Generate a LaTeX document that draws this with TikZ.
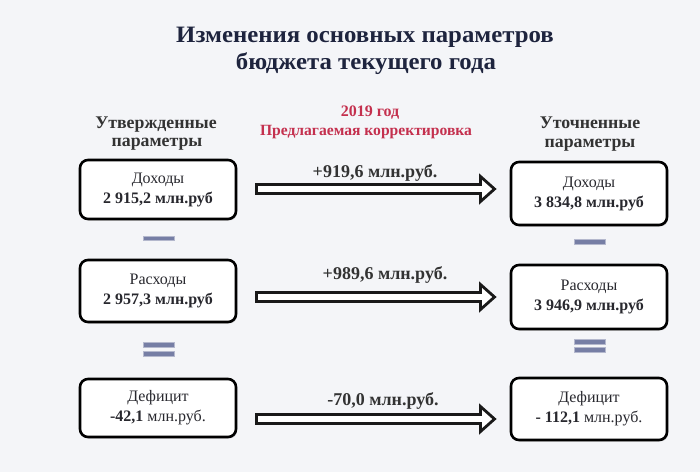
\documentclass[tikz,border=0pt]{standalone}
\usepackage{fontspec}
\setmainfont{Liberation Serif}
\usetikzlibrary{calc,shadows}
\definecolor{bgc}{RGB}{244,245,248}
\definecolor{titlec}{RGB}{30,36,62}
\definecolor{redc}{RGB}{196,48,78}
\definecolor{txtc}{RGB}{40,40,46}
\definecolor{barc}{RGB}{118,126,165}
\newcommand{\fatarrow}[2]{%
  \draw[arrowline] ($(#1)+(0,-4.5)$) -- ($(#2)+(-14,-4.5)$) -- ($(#2)+(-14,-12.5)$) -- (#2)
    -- ($(#2)+(-14,12.5)$) -- ($(#2)+(-14,4.5)$) -- ($(#1)+(0,4.5)$) -- cycle;}
\begin{document}
\begin{tikzpicture}[x=1pt,y=-1pt,
  box/.style={draw=black, line width=2.6pt, rounded corners=8pt, fill=white,
    minimum width=156pt, minimum height=60pt, align=center, text=txtc, inner sep=0pt,
    font=\fontsize{16}{20}\selectfont,
    drop shadow={shadow xshift=1.2pt, shadow yshift=-1.5pt, fill=black!35, opacity=.45}},
  bar/.style={draw=barc!55!white, line width=0.6pt, fill=barc, minimum width=31pt, minimum height=4.5pt, inner sep=0pt},
  arrowline/.style={draw=black!90, line width=2.8pt, fill=white, line join=miter, miter limit=10},
  titletext/.style={font=\bfseries\fontsize{23.5}{28}\selectfont, text=titlec, anchor=base, inner sep=0pt},
  headtext/.style={font=\bfseries\fontsize{17.8}{20}\selectfont, text=black!80, anchor=base, inner sep=0pt},
  redtext/.style={font=\bfseries\fontsize{16}{19}\selectfont, text=redc, anchor=base, inner sep=0pt},
  lbl/.style={font=\bfseries\fontsize{18}{21}\selectfont, text=black!80, anchor=base, inner sep=0pt}
]
\fill[bgc] (0,0) rectangle (700,472);
\useasboundingbox (0,0) rectangle (700,472);

% title
\node[titletext] (t1) at (365,42.5) {\scalebox{1.055}[1]{Изменения основных параметров}};
\node[titletext] (t2) at (366,69.5) {\scalebox{1.055}[1]{бюджета текущего года}};

% column heads
\node[headtext] (hl1) at (156,128) {Утвержденные};
\node[headtext] (hl2) at (157,146) {параметры};
\node[redtext] (y1) at (370,116) {2019 год};
\node[redtext, font=\bfseries\fontsize{15.6}{18}\selectfont] (y2) at (366,135) {Предлагаемая корректировка};
\node[headtext] (hr1) at (590,128) {Уточненные};
\node[headtext] (hr2) at (590,147) {параметры};

% left boxes
\node[box, minimum height=59pt] (L1) at (158,189.5) {Доходы\\\textbf{2 915,2 млн.руб}};
\node[box, minimum height=62pt] (L2) at (158,291) {Расходы\\\textbf{2 957,3 млн.руб}};
\node[box, minimum height=58pt] (L3) at (158,408) {Дефицит\\\textbf{-42,1} млн.руб.};

% right boxes
\node[box, minimum height=63pt] (R1) at (589,193.5) {Доходы\\\textbf{3 834,8 млн.руб}};
\node[box, minimum height=64pt] (R2) at (589,297) {Расходы\\\textbf{3 946,9 млн.руб}};
\node[box, minimum height=62pt] (R3) at (589,409) {Дефицит\\\textbf{- 112,1} млн.руб.};

% operators
\node[bar] (mL) at (158.5,238.5) {};
\node[bar] (eqL1) at (158.5,345) {};
\node[bar] (eqL2) at (158.5,354) {};
\node[bar] (mR) at (590,242) {};
\node[bar] (eqR1) at (590,342) {};
\node[bar] (eqR2) at (590,350) {};

% arrows
\coordinate (a1s) at (256.5,189);
\coordinate (a1e) at (494.5,189);
\coordinate (a2s) at (256.5,297);
\coordinate (a2e) at (494.5,297);
\coordinate (a3s) at (256.5,419);
\coordinate (a3e) at (494.5,419);
\fatarrow{a1s}{a1e}
\fatarrow{a2s}{a2e}
\fatarrow{a3s}{a3e}

\node[lbl] (d1) at (375,177) {+919,6 млн.руб.};
\node[lbl] (d2) at (385,279) {+989,6 млн.руб.};
\node[lbl] (d3) at (383,405) {-70,0 млн.руб.};
\end{tikzpicture}
\end{document}
